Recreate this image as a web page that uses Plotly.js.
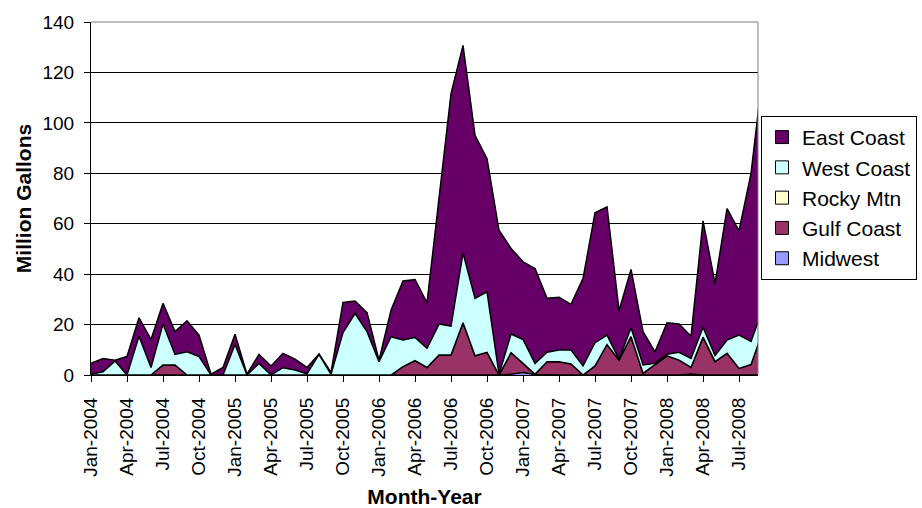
<!DOCTYPE html>
<html>
<head>
<meta charset="utf-8">
<script src="https://cdn.plot.ly/plotly-3.0.1.min.js"></script>
<style>
  html, body { margin: 0; padding: 0; background: #ffffff; }
  #chart { width: 922px; height: 508px; }
</style>
</head>
<body>
<div id="chart"></div>
<script>
// Month categories (Jan-2004 .. Sep-2008)
var months = [
  'Jan-2004','Feb-2004','Mar-2004','Apr-2004','May-2004','Jun-2004','Jul-2004','Aug-2004','Sep-2004','Oct-2004','Nov-2004','Dec-2004',
  'Jan-2005','Feb-2005','Mar-2005','Apr-2005','May-2005','Jun-2005','Jul-2005','Aug-2005','Sep-2005','Oct-2005','Nov-2005','Dec-2005',
  'Jan-2006','Feb-2006','Mar-2006','Apr-2006','May-2006','Jun-2006','Jul-2006','Aug-2006','Sep-2006','Oct-2006','Nov-2006','Dec-2006',
  'Jan-2007','Feb-2007','Mar-2007','Apr-2007','May-2007','Jun-2007','Jul-2007','Aug-2007','Sep-2007','Oct-2007','Nov-2007','Dec-2007',
  'Jan-2008','Feb-2008','Mar-2008','Apr-2008','May-2008','Jun-2008','Jul-2008','Aug-2008','Sep-2008'
];

// Tick labels shown on the x axis
var tickLabels = [
  'Jan-2004','Apr-2004','Jul-2004','Oct-2004','Jan-2005','Apr-2005','Jul-2005','Oct-2005',
  'Jan-2006','Apr-2006','Jul-2006','Oct-2006','Jan-2007','Apr-2007','Jul-2007','Oct-2007',
  'Jan-2008','Apr-2008','Jul-2008'
];

// Series values (million gallons), stacked bottom to top: Midwest, Gulf, Rocky, West, East
var midwest = [
  0,0,0,0,0,0,0,0,0,0,0,0,
  0,0,0,0,0,0,0,0,0,0,0,0,
  0,0,0,0,0,0,0,0,0,0,0,0.3,
  1.0,0.2,0,0,0,0,0,0,0,0,0,0,
  0,0,0.4,0,0,0,0,0,0
];
var gulfCoast = [
  0,0,0,0,0,0,4,4,0,0,0,0,
  0,0,0,0,0,0,0,0,0,0,0,0,
  0,0,3.3,5.7,3,7.9,7.9,20.7,7.6,9,0,8.5,
  3.6,0.1,5.3,5.3,4.4,0,3.6,12.1,5.9,15.2,0.7,4,
  7.6,5.9,2.6,15,5.3,8.6,2.6,4.2,17.6
];
var rockyMtn = [
  0,0,0,0,0,0,0,0,0,0,0,0,
  0,0,0,0,0,0,0,0,0,0,0,0,
  0,0,0,0,0,0,0,0,0,0,0,0,
  0,0,0,0,0,0,0,0,0,0,0,0,
  0,0,0,0,0,0,0,0,0
];
var westCoast = [
  0.3,1.3,5.5,0,15.4,3,16.2,4.2,9.2,7.3,0,0,
  12.1,0,4.6,0,2.9,2,0.5,8.2,0.3,16.8,24.4,17.2,
  5.3,15.2,10.6,9.2,7.6,12.3,11.5,27.7,22.8,24,0.3,7.4,
  9.5,4.3,3.7,4.6,5.5,3.6,9.2,3.7,0.3,3.5,3.3,0.6,
  0.6,3.1,3.6,3.9,2.4,5.3,13.2,9.1,9
];
var eastCoast = [
  4.3,5.2,0.4,7.3,7.3,11.1,8.2,9.0,12.3,8.5,0.3,3,
  4.1,0.3,3.6,3.6,5.7,4.3,2.5,0.1,0.7,12,4.9,7.5,
  0.6,10.5,23.4,23.0,18,49.8,92.2,82.3,64.6,52.8,57.1,34,
  30.8,37.6,21.4,20.9,18.1,34.7,51.5,50.9,19.3,23.2,13.2,4.6,
  12.5,11.2,8.8,42.2,28.6,52.1,41.4,66.7,94.1
];

var seriesNames = ['Midwest','Gulf Coast','Rocky Mtn','West Coast','East Coast'];
var seriesValues = [midwest, gulfCoast, rockyMtn, westCoast, eastCoast];
var seriesColors = ['#9999FF','#993366','#FFFFCC','#CCFFFF','#660066'];

var FONT = '"Liberation Sans", Arial, Helvetica, sans-serif';

var traces = [];
for (var s = 0; s < seriesNames.length; s++) {
  traces.push({
    type: 'scatter',
    mode: 'lines',
    x: months,
    y: seriesValues[s],
    name: seriesNames[s],
    stackgroup: 'one',
    line: { color: '#000000', width: 1.5 },
    fillcolor: seriesColors[s],
    showlegend: false,
    hoverinfo: 'x+y+name'
  });
}
// Legend entries (square swatches), top to bottom: East, West, Rocky, Gulf, Midwest
for (var k = seriesNames.length - 1; k >= 0; k--) {
  traces.push({
    type: 'scatter',
    mode: 'markers',
    x: [null],
    y: [null],
    name: seriesNames[k],
    marker: { symbol: 'square', size: 13, color: seriesColors[k], line: { color: '#000000', width: 1 } },
    showlegend: true,
    hoverinfo: 'skip'
  });
}

var layout = {
  width: 922,
  height: 508,
  paper_bgcolor: '#ffffff',
  plot_bgcolor: '#ffffff',
  margin: { l: 91, r: 164, t: 22, b: 133, pad: 0, autoexpand: false },
  font: { family: FONT, size: 19, color: '#000000' },
  showlegend: true,
  legend: {
    x: 1.0045, xanchor: 'left',
    y: 0.734, yanchor: 'top',
    bordercolor: '#000000', borderwidth: 1,
    bgcolor: '#ffffff',
    font: { family: FONT, size: 21, color: '#000000' },
    traceorder: 'normal',
    itemclick: false
  },
  xaxis: {
    type: 'category',
    categoryorder: 'array',
    categoryarray: months,
    range: [0, 55.58],
    tickmode: 'array',
    tickvals: tickLabels,
    ticktext: tickLabels,
    tickangle: -90,
    ticks: 'outside',
    ticklen: 6,
    tickcolor: '#000000',
    tickfont: { family: FONT, size: 19, color: '#000000' },
    ticklabelstandoff: 8,
    showline: true,
    linecolor: '#000000',
    linewidth: 1,
    showgrid: false,
    zeroline: false,
    automargin: false,
    title: { text: '<b>Month-Year</b>', font: { family: FONT, size: 21, color: '#000000' }, standoff: 16 }
  },
  yaxis: {
    range: [0, 140],
    dtick: 20,
    tick0: 0,
    ticks: 'outside',
    ticklen: 6,
    tickcolor: '#000000',
    tickfont: { family: FONT, size: 19, color: '#000000' },
    ticklabelstandoff: 6,
    showline: true,
    linecolor: '#000000',
    linewidth: 1,
    showgrid: true,
    gridcolor: '#000000',
    gridwidth: 1,
    zeroline: false,
    automargin: false,
    title: { text: '<b>Million Gallons</b>', font: { family: FONT, size: 21, color: '#000000' }, standoff: 5 }
  },
  shapes: [
    { type: 'line', xref: 'paper', yref: 'paper', x0: 0, x1: 1, y0: 1, y1: 1, line: { color: '#808080', width: 1 }, layer: 'above' },
    { type: 'line', xref: 'paper', yref: 'paper', x0: 1, x1: 1, y0: 0, y1: 1, line: { color: '#808080', width: 1 }, layer: 'above' }
  ]
};

Plotly.newPlot('chart', traces, layout, { displayModeBar: false, staticPlot: true });
</script>
</body>
</html>
